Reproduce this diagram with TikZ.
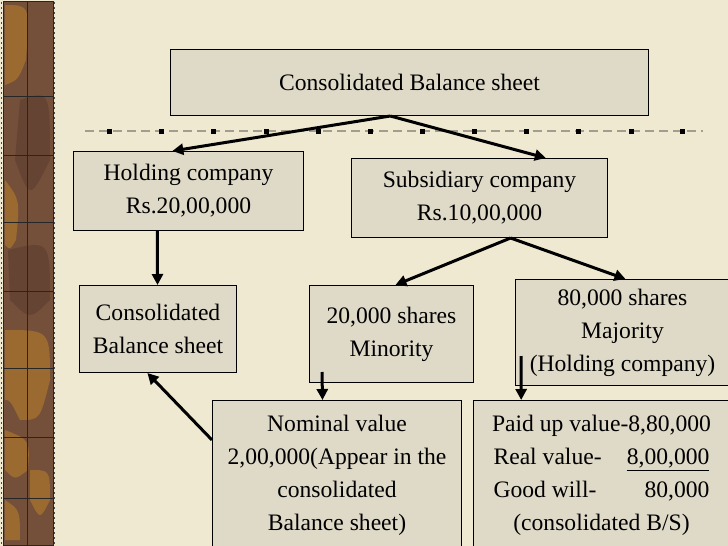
\documentclass[tikz,border=0pt]{standalone}
\usepackage{fontspec}
\setmainfont{Liberation Serif}
\usepackage{calc}
\usetikzlibrary{arrows.meta,calc}
\definecolor{bg}{HTML}{EFE9D1}
\definecolor{boxfill}{HTML}{DFD9C8}
\definecolor{barbrown}{HTML}{74503A}
\definecolor{bardark}{HTML}{654434}
\definecolor{barlight}{HTML}{9A6A30}
\definecolor{dashgray}{HTML}{A39D8F}
\begin{document}
\begin{tikzpicture}[x=1pt,y=-1pt,
  box/.style={draw=black, line width=1pt, fill=boxfill, anchor=north west, align=center,
    inner sep=0pt, font=\fontsize{23.6}{33}\selectfont},
  arr/.style={line width=3pt, -{Triangle[length=11pt,width=11pt]}},
  barline/.style={draw=black!85, line width=0.9pt},
]
\useasboundingbox (0,0) rectangle (728,546);
\fill[bg] (0,0) rectangle (728,546);
% left decorative bar
\fill[barbrown] (3,1) rectangle (53,545);
\fill[barlight] (5,5) .. controls (30,5) .. (26,60) .. controls (18,80) .. (5,85) -- cycle;
\fill[barlight] (5,180) .. controls (20,200) .. (16,240) .. controls (10,250) .. (5,245) -- cycle;
\fill[barlight] (5,330) .. controls (50,330) .. (50,380) .. controls (40,420) .. (20,420) .. controls (10,400) .. (5,400) -- cycle;
\fill[barlight] (5,430) .. controls (30,440) .. (28,470) .. controls (15,480) .. (5,470) -- cycle;
\fill[barlight] (30,470) .. controls (50,470) .. (50,500) .. controls (40,520) .. (30,500) -- cycle;
\fill[barlight] (5,500) .. controls (20,510) .. (20,540) -- (5,540) -- cycle;
\fill[bardark] (20,100) .. controls (50,90) .. (50,160) .. controls (30,200) .. (15,160) -- cycle;
\fill[bardark] (8,250) .. controls (50,240) .. (50,300) .. controls (30,320) .. (10,300) -- cycle;
\draw[barline] (3,1) rectangle (53,545);
\draw[barline] (27,1) -- (27,545);
\foreach \y in {96,155,222,291,368,437,498} \draw[barline] (3,\y) -- (53,\y);
\draw[black!70, line width=1.5pt, dash pattern=on 1.5pt off 3.5pt] (1.5,2) -- (1.5,545);
\draw[black!70, line width=1.5pt, dash pattern=on 1.5pt off 3.5pt] (54.5,2) -- (54.5,545);
% dashed rule with squares
\draw[dashgray, line width=2pt, dash pattern=on 9pt off 5pt] (85,131) -- (703,131);
\foreach \x in {109,161,213,266,318,370,422,474,526,578,631,682}
  \fill[black] (\x-2.5,128.5) rectangle ++(5,5);
% boxes
\node[box, minimum width=478pt, minimum height=66pt] (top) at (170,49) {Consolidated Balance sheet};
\node[box, minimum width=230pt, minimum height=79pt] (hold) at (73,151) {Holding company\\Rs.20,00,000};
\node[box, minimum width=256pt, minimum height=79pt] (sub) at (351,158) {Subsidiary company\\Rs.10,00,000};
\node[box, minimum width=157pt, minimum height=87pt] (cons) at (79,285) {Consolidated\\Balance sheet};
\node[box, minimum width=164pt, minimum height=97pt] (minor) at (309,285) {20,000 shares\\Minority};
\node[box, minimum width=214pt, minimum height=106pt] (major) at (515,279) {80,000 shares\\Majority\\(Holding company)};
\node[box, minimum width=249pt, minimum height=150pt] (nom) at (212,400)
  {Nominal value\\2,00,000(Appear in the\\consolidated\\Balance sheet)};
\node[box, minimum width=256pt, minimum height=150pt] (paid) at (473,400)
  {Paid up value-8,80,000\\
   \makebox[\widthof{Paid up value-8,80,000}-3pt]{Real value-\hfill\underline{8,00,000}}\\
   \makebox[\widthof{Paid up value-8,80,000}-3pt]{Good will-\hfill 80,000}\\
   (consolidated B/S)};
% connectors
\draw[arr] ($(top.south west)!0.46!(top.south east)$) -- ($(hold.north west)!0.43!(hold.north east)$);
\draw[arr] ($(top.south west)!0.46!(top.south east)$) -- ($(sub.north west)!0.758!(sub.north east)$);
\draw[arr] ($(hold.south west)!0.365!(hold.south east)$) -- ($(cons.north west)!0.497!(cons.north east)$);
\draw[arr] ($(sub.south west)!0.621!(sub.south east)$) -- ($(minor.north west)!0.524!(minor.north east)$);
\draw[arr] ($(sub.south west)!0.621!(sub.south east)$) -- ($(major.north west)!0.514!(major.north east)$);
\draw[arr] ($(minor.south west)+(13,-11)$) -- ($(nom.north west)!0.442!(nom.north east)$);
\draw[arr] ($(major.north west)+(6,77)$) -- ($(paid.north west)!0.1875!(paid.north east)$);
\draw[arr] ($(nom.north west)+(0,40)$) -- ($(cons.south west)!0.433!(cons.south east)$);
\end{tikzpicture}
\end{document}
